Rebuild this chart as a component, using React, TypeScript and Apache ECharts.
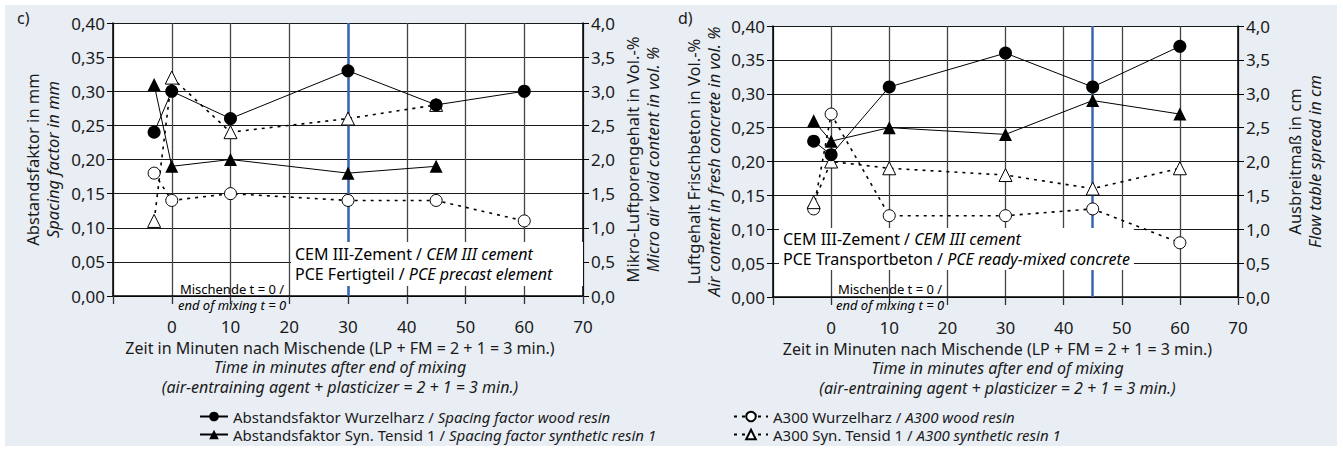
import React, { useEffect, useRef } from "react";
import * as echarts from "echarts";

// ---------- data ----------
const timesC = [-3, 0, 10, 30, 45, 60];
const cSpacingWood = [0.24, 0.3, 0.26, 0.33, 0.28, 0.3];
const cSpacingSyn = [0.31, 0.19, 0.2, 0.18, 0.19, null];
const cA300Wood = [1.8, 1.4, 1.5, 1.4, 1.4, 1.1];
const cA300Syn = [1.1, 3.2, 2.4, 2.6, 2.8, null];

const timesD = [-3, 0, 10, 30, 45, 60];
const dSpacingWood = [0.23, 0.21, 0.31, 0.36, 0.31, 0.37];
const dSpacingSyn = [0.26, 0.23, 0.25, 0.24, 0.29, 0.27];
const dA300Wood = [1.3, 2.7, 1.2, 1.2, 1.3, 0.8];
const dA300Syn = [1.4, 2.0, 1.9, 1.8, 1.6, 1.9];

const markTimeC = 30;
const markTimeD = 45;

const NAME_WOOD = "Abstandsfaktor Wurzelharz / Spacing factor wood resin";
const NAME_SYN = "Abstandsfaktor Syn. Tensid 1 / Spacing factor synthetic resin 1";
const NAME_A_WOOD = "A300 Wurzelharz / A300 wood resin";
const NAME_A_SYN = "A300 Syn. Tensid 1 / A300 synthetic resin 1";

const xTitle =
  "{a|Zeit in Minuten nach Mischende (LP + FM = 2 + 1 = 3 min.)}\n{b|Time in minutes after end of mixing}\n{b|(air-entraining agent + plasticizer = 2 + 1 = 3 min.)}";

const FONT = "'Noto Sans', 'Open Sans', sans-serif";
const TXT = "#1a1a1a";

function pairs(t: number[], v: (number | null)[]) {
  const out: number[][] = [];
  t.forEach((x, i) => {
    if (v[i] !== null && v[i] !== undefined) out.push([x, v[i] as number]);
  });
  return out;
}

const richX = {
  a: { fontFamily: FONT, fontSize: 16, color: TXT, lineHeight: 19.5 },
  b: { fontFamily: FONT, fontSize: 16, color: TXT, lineHeight: 19.5, fontStyle: "italic" },
};
const richY = {
  a: { fontFamily: FONT, fontSize: 16.5, color: TXT, lineHeight: 20 },
  b: { fontFamily: FONT, fontSize: 16.5, color: TXT, lineHeight: 20, fontStyle: "italic" },
};

function xAxis(gridIndex: number) {
  return {
    type: "value",
    gridIndex,
    min: -10,
    max: 70,
    interval: 10,
    axisLine: { show: true, onZero: false, lineStyle: { color: "#000", width: 1.5 } },
    axisTick: { show: true, length: 8, lineStyle: { color: "#333", width: 1.3 } },
    axisLabel: {
      margin: 22,
      fontFamily: FONT,
      fontSize: 17,
      color: TXT,
      formatter: (v: number) => (v < 0 ? "" : String(v)),
    },
    splitLine: { show: true, lineStyle: { color: "#444", width: 1.3 } },
    name: xTitle,
    nameLocation: "middle",
    nameGap: 42,
    nameTextStyle: { rich: richX, padding: [0, 16, 0, 0] },
  };
}

function yLeft(gridIndex: number, l1: string, l2: string, gap: number) {
  return {
    type: "value",
    gridIndex,
    position: "left",
    min: 0,
    max: 0.4,
    interval: 0.05,
    axisLine: { show: true, onZero: false, lineStyle: { color: "#000", width: 1.5 } },
    axisTick: { show: true, length: 6, lineStyle: { color: "#000" } },
    axisLabel: {
      margin: 8,
      fontFamily: FONT,
      fontSize: 17,
      color: TXT,
      formatter: (v: number) => v.toFixed(2).replace(".", ","),
    },
    splitLine: { show: true, lineStyle: { color: "#1a1a1a", width: 1.2 } },
    name: `{a|${l1}}\n{b|${l2}}`,
    nameLocation: "middle",
    nameRotate: 90,
    nameGap: gap,
    nameTextStyle: { rich: richY },
  };
}

function yRight(gridIndex: number, l1: string, l2: string, gap: number) {
  return {
    type: "value",
    gridIndex,
    position: "right",
    min: 0,
    max: 4,
    interval: 0.5,
    axisLine: { show: true, onZero: false, lineStyle: { color: "#000", width: 1.5 } },
    axisTick: { show: true, length: 6, lineStyle: { color: "#000" } },
    axisLabel: {
      margin: 8,
      fontFamily: FONT,
      fontSize: 17,
      color: TXT,
      formatter: (v: number) => v.toFixed(1).replace(".", ","),
    },
    splitLine: { show: false },
    name: `{a|${l1}}\n{b|${l2}}`,
    nameLocation: "middle",
    nameRotate: 90,
    nameGap: gap,
    nameTextStyle: { rich: richY },
  };
}

const dashStyle = { color: "#000", width: 1.6, type: [3, 5] as any };
const solidStyle = { color: "#000", width: 1 };

function series(xi: number, yl: number, yr: number, t: number[], sw: any[], ss: any[], aw: any[], as: any[], mark: number) {
  return [
    {
      name: NAME_WOOD,
      type: "line",
      xAxisIndex: xi,
      yAxisIndex: yl,
      data: pairs(t, sw),
      symbol: "circle",
      symbolSize: 13,
      itemStyle: { color: "#000" },
      lineStyle: solidStyle,
      z: 5,
      markLine: {
        silent: true,
        symbol: "none",
        label: { show: false },
        lineStyle: { color: "#3a66b0", width: 2.5, type: "solid" },
        data: [{ xAxis: mark }],
        z: 3,
      },
    },
    {
      name: NAME_SYN,
      type: "line",
      xAxisIndex: xi,
      yAxisIndex: yl,
      data: pairs(t, ss),
      symbol: "triangle",
      symbolSize: 13,
      itemStyle: { color: "#000" },
      lineStyle: solidStyle,
      z: 5,
    },
    {
      name: NAME_A_WOOD,
      type: "line",
      xAxisIndex: xi,
      yAxisIndex: yr,
      data: pairs(t, aw),
      symbol: "circle",
      symbolSize: 12,
      itemStyle: { color: "#fff", borderColor: "#000", borderWidth: 1 },
      lineStyle: dashStyle,
      z: 4,
    },
    {
      name: NAME_A_SYN,
      type: "line",
      xAxisIndex: xi,
      yAxisIndex: yr,
      data: pairs(t, as),
      symbol: "triangle",
      symbolSize: 13,
      itemStyle: { color: "#fff", borderColor: "#000", borderWidth: 1 },
      lineStyle: dashStyle,
      z: 4,
    },
  ];
}

const legendRich = {
  n: { fontFamily: FONT, fontSize: 15, color: TXT, lineHeight: 18 },
  i: { fontFamily: FONT, fontSize: 15, color: TXT, lineHeight: 18, fontStyle: "italic" },
};
const legendFmt = (name: string) => {
  const idx = name.indexOf(" / ");
  return `{n|${name.slice(0, idx)} / }{i|${name.slice(idx + 3)}}`;
};

function legend(data: string[], left: number, itemWidth: number) {
  return {
    data,
    orient: "vertical",
    left,
    top: 409,
    padding: 0,
    height: 60,
    itemWidth,
    itemHeight: 12,
    itemGap: 3,
    selectedMode: false,
    formatter: legendFmt,
    textStyle: { fontFamily: FONT, fontSize: 15, color: TXT, rich: legendRich },
  };
}

export default function App() {
  const ref = useRef<HTMLDivElement>(null);
  useEffect(() => {
    if (!ref.current) return;
    const chart = echarts.init(ref.current, null, { renderer: "svg" });
    const annoRich = {
      n: { fontFamily: FONT, fontSize: 16, color: TXT, lineHeight: 20 },
      i: { fontFamily: FONT, fontSize: 16, color: TXT, lineHeight: 20, fontStyle: "italic" },
    };
    const mixRich = {
      n: { fontFamily: FONT, fontSize: 13, color: TXT, lineHeight: 16, align: "center" },
      i: { fontFamily: FONT, fontSize: 13, color: TXT, lineHeight: 16, fontStyle: "italic", align: "center" },
    };
    chart.setOption({
      animation: false,
      backgroundColor: "#fff",
      grid: [
        { left: 113, top: 23, width: 470, height: 273, show: true, backgroundColor: "#fff", borderWidth: 0 },
        { left: 773, top: 26, width: 465, height: 271, show: true, backgroundColor: "#fff", borderWidth: 0 },
      ],
      xAxis: [xAxis(0), xAxis(1)],
      yAxis: [
        yLeft(0, "Abstandsfaktor in mm", "Spacing factor in mm", 51),
        yRight(0, "Mikro-Luftporengehalt in Vol.-%", "Micro air void content in vol. %", 39),
        yLeft(1, "Luftgehalt Frischbeton in Vol.-%", "Air content in fresh concrete in vol. %", 50),
        yRight(1, "Ausbreitmaß in cm", "Flow table spread in cm", 46),
      ],
      legend: [legend([NAME_WOOD, NAME_SYN], 199, 28), legend([NAME_A_WOOD, NAME_A_SYN], 733, 34)],
      graphic: [
        {
          type: "rect",
          z: -100,
          silent: true,
          shape: { x: 5, y: 5, width: 1332, height: 441 },
          style: { fill: "#e9eef5" },
        },
        { type: "text", x: 17, y: 10, style: { text: "c)", fontFamily: FONT, fontSize: 16, fill: TXT } },
        { type: "text", x: 678, y: 10, style: { text: "d)", fontFamily: FONT, fontSize: 16, fill: TXT } },
        {
          type: "text",
          x: 291,
          y: 242,
          z: 50,
          style: {
            text: "{n|CEM III-Zement / }{i|CEM III cement}\n{n|PCE Fertigteil / }{i|PCE precast element}",
            rich: annoRich,
            backgroundColor: "#fff",
            padding: [2, 8, 2, 4],
            width: 280,
          },
        },
        {
          type: "text",
          x: 779,
          y: 228,
          z: 50,
          style: {
            text: "{n|CEM III-Zement / }{i|CEM III cement}\n{n|PCE Transportbeton / }{i|PCE ready-mixed concrete}",
            rich: annoRich,
            backgroundColor: "#fff",
            padding: [1, 4, 1, 4],
          },
        },
        {
          type: "text",
          x: 232,
          y: 281,
          z: 50,
          style: {
            text: "{n|Mischende t = 0 /}\n{i|end of mixing t = 0}",
            rich: mixRich,
            align: "center",
          },
        },
        {
          type: "text",
          x: 890,
          y: 281,
          z: 50,
          style: {
            text: "{n|Mischende t = 0 /}\n{i|end of mixing t = 0}",
            rich: mixRich,
            align: "center",
          },
        },
      ],
      series: [
        ...series(0, 0, 1, timesC, cSpacingWood, cSpacingSyn, cA300Wood, cA300Syn, markTimeC),
        ...series(1, 2, 3, timesD, dSpacingWood, dSpacingSyn, dA300Wood, dA300Syn, markTimeD),
      ],
    });
    return () => chart.dispose();
  }, []);
  return (
    <div
      ref={ref}
      style={{ position: "fixed", left: 0, top: 0, width: 1343, height: 452 }}
    />
  );
}
